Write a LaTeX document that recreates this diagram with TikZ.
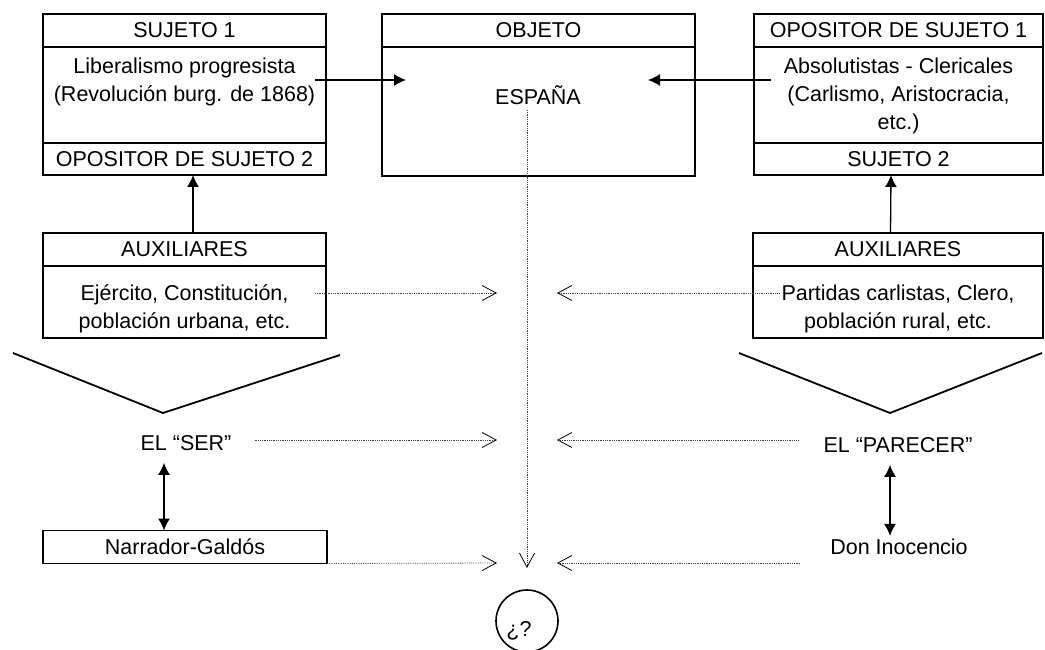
\documentclass[tikz,border=0pt]{standalone}
\usepackage{fontspec}
\setmainfont{Liberation Sans}
\usepackage{tikz}
\usetikzlibrary{arrows.meta,calc,positioning}
\tikzstyle{actantes}=[
  x=1pt,y=-1pt,font=\fontsize{21.5}{28}\selectfont,>={Latex[length=12pt,width=12pt]}
]
\tikzstyle{celda}=[
  draw,line width=1.6pt,inner sep=0pt,outer sep=0pt
]
\tikzstyle{texto}=[
  inner sep=0pt,align=center
]
\tikzstyle{flecha}=[
  line width=1.3pt,->
]
\tikzstyle{doble}=[
  line width=1.3pt,<->
]
\tikzstyle{punteada}=[
  densely dotted,line width=0.8pt,black!75,-{Straight Barb[length=14pt,width=15pt,line width=0.8pt,color=black]}
]
\tikzstyle{cuna}=[
  line width=1.8pt,line join=miter
]

\begin{document}
\begin{tikzpicture}[actantes]
  \useasboundingbox (0,0) rectangle (1045,650);
      \node (suj1) at (184.5,30.5) [celda,minimum width=283pt,minimum height=33pt] {SUJETO 1};
      \node (liberal) [celda,below=0pt of suj1,minimum width=283pt,minimum height=96pt] {};
      \node (op2) [celda,below=0pt of liberal,minimum width=283pt,minimum height=32pt] {OPOSITOR DE SUJETO 2};
      \node (libtxt) at ($(liberal.north)+(0,10.5)$) [texto,anchor=north] {Liberalismo progresista\\(Revolución burg. de 1868)};
      \node (obj) at (538.5,30.5) [celda,minimum width=313pt,minimum height=33pt] {OBJETO};
      \node (espana) [celda,below=0pt of obj,minimum width=313pt,minimum height=129pt] {};
      \node (esptxt) at (538,105) [texto,anchor=base] {ESPAÑA};
      \node (opo1) at (898.5,30.5) [celda,minimum width=289pt,minimum height=33pt] {OPOSITOR DE SUJETO 1};
      \node (absol) [celda,below=0pt of opo1,minimum width=289pt,minimum height=96pt] {};
      \node (suj2) [celda,below=0pt of absol,minimum width=289pt,minimum height=32pt] {SUJETO 2};
      \node (abstxt) at ($(absol.north)+(0,10.5)$) [texto,anchor=north] {Absolutistas - Clericales\\(Carlismo, Aristocracia,\\etc.)};
      \node (auxL) at (184.5,249.5) [celda,minimum width=283pt,minimum height=33pt] {AUXILIARES};
      \node (ejercito) [celda,below=0pt of auxL,minimum width=283pt,minimum height=72pt] {};
      \node (ejtxt) at ($(ejercito.north)+(0,18.5)$) [texto,anchor=north] {Ejército, Constitución,\\población urbana, etc.};
      \node (auxR) at (898,249.5) [celda,minimum width=290pt,minimum height=33pt] {AUXILIARES};
      \node (partidas) [celda,below=0pt of auxR,minimum width=290pt,minimum height=72pt] {};
      \node (partxt) at ($(partidas.north)+(0,18.5)$) [texto,anchor=north] {Partidas carlistas, Clero,\\población rural, etc.};
      \node (ser) at (186,443) [texto] {EL “SER”};
      \node (parecer) at (898,445) [texto] {EL “PARECER”};
      \node (narr) at (185,547) [celda,minimum width=284pt,minimum height=33pt] {Narrador-Galdós};
      \node (don) at (899,547) [texto] {Don Inocencio};
      \node (duda) at (527,621) [draw,circle,line width=1.6pt,minimum size=62pt] {};
      \node (dudatxt) at (519,631) [texto] {¿?};
      \coordinate (fl1) at (406,80);
      \coordinate (fr1) at (648,80);
      \coordinate (espini) at (527,110);
      \coordinate (espfin) at (527,568);
      \coordinate (auxfinL) at (497,293);
      \coordinate (auxfinR) at (557,293);
      \coordinate (serfin) at (497,440);
      \coordinate (parfin) at (557,440);
      \coordinate (narrfin) at (497,563);
      \coordinate (donfin) at (557,563);
      \draw [flecha] ($(liberal.east |- fl1)+(-11,0)$) -- (fl1);
      \draw [flecha] ($(absol.west |- fr1)+(17,0)$) -- (fr1);
      \draw [flecha] ($(auxL.north)+(8.5,0)$) -- ($(op2.south)+(8.5,0)$);
      \draw [flecha] ($(auxR.north)+(-7.5,0)$) -- ($(suj2.south)+(-7.5,0)$);
      \draw [doble] ($(ser.south)+(-22,12)$) -- ($(narr.north)+(-21,0)$);
      \draw [doble] ($(parecer.south)+(-8,12)$) -- ($(don.north)+(-9,-3)$);
      \draw [punteada] (espini) -- (espfin);
      \draw [punteada] ($(ejercito.east |- auxfinL)+(-11,0)$) -- (auxfinL);
      \draw [punteada] ($(partxt.west |- auxfinR)+(-2,0)$) -- (auxfinR);
      \draw [punteada] ($(ser.east |- serfin)+(23,0)$) -- (serfin);
      \draw [punteada] ($(parecer.west |- parfin)+(-25,0)$) -- (parfin);
      \draw [punteada] (narr.south east) -- (narrfin);
      \draw [punteada] ($(don.west |- donfin)+(-30,0)$) -- (donfin);
      \draw [cuna] (13,353) -- (163,413) -- (340,355);
      \draw [cuna] (739,353) -- (890,413) -- (1042,353);
\end{tikzpicture}
\end{document}
